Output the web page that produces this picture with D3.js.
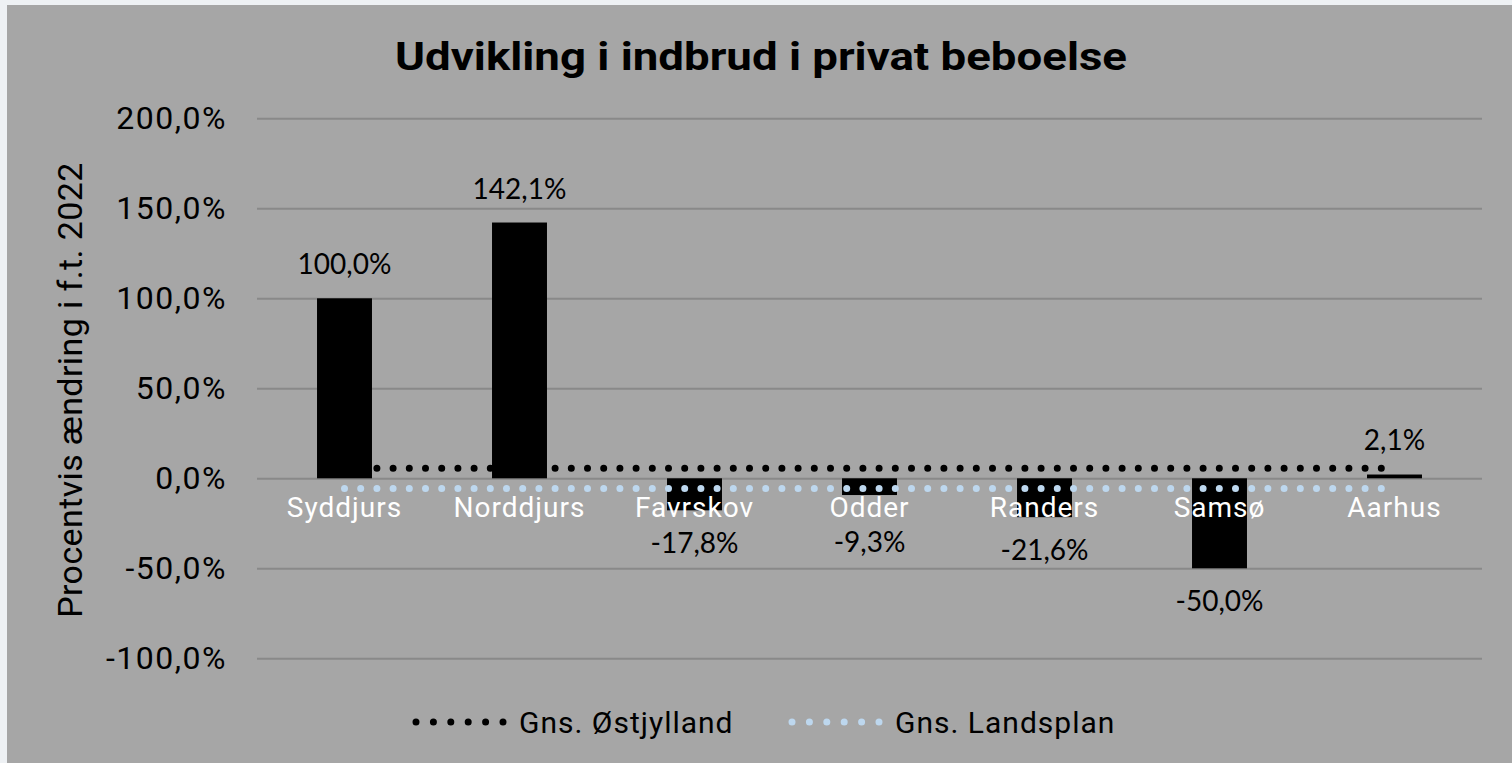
<!DOCTYPE html>
<html lang="da">
<head>
<meta charset="UTF-8">
<script src="https://d3js.org/d3.v7.min.js"></script>
<title>Udvikling i indbrud i privat beboelse</title>
<style>
  body { margin: 0; background: #eef1f4; }
  svg { display: block; }
</style>
</head>
<body>
<div id="chart"></div>
<script>
// data
var kommuner = ["Syddjurs", "Norddjurs", "Favrskov", "Odder", "Randers", "Samsø", "Aarhus"];
var aendring = [100.0, 142.1, -17.8, -9.3, -21.6, -50.0, 2.1];
var gnsOstjylland = [5.6, 5.6, 5.6, 5.6, 5.6, 5.6, 5.6];
var gnsLandsplan = [-5.6, -5.6, -5.6, -5.6, -5.6, -5.6, -5.6];
var yTicks = [-100, -50, 0, 50, 100, 150, 200];
var serieNavne = ["Gns. Østjylland", "Gns. Landsplan"];

var W = 1512, H = 763;
// dansk format med almindelig bindestreg
var fmt = function (v) { return d3.format(".1f")(v).replace(".", ",").replace("\u2212", "-") + "%"; };
var tickFont = "Roboto, 'DejaVu Sans', sans-serif";

var svg = d3.select("#chart").append("svg")
    .attr("width", W)
    .attr("height", H);

// baggrund
svg.append("rect").attr("x", 7).attr("y", 5)
    .attr("width", W - 7).attr("height", H - 5)
    .attr("fill", "#a6a6a6");

var x = d3.scaleBand().domain(kommuner).range([257, 1482])
    .paddingInner(0.686).paddingOuter(0.343);
var y = d3.scaleLinear().domain([-100, 200]).range([658.3, 118.3]);
var cx = function (d) { return x(d) + x.bandwidth() / 2; };

// titel
svg.append("text")
    .attr("x", 761).attr("y", 70)
    .attr("text-anchor", "middle")
    .attr("font-family", "Roboto, sans-serif")
    .attr("font-weight", 700)
    .attr("font-size", 39)
    .attr("textLength", 732)
    .attr("lengthAdjust", "spacingAndGlyphs")
    .text("Udvikling i indbrud i privat beboelse");

// gitterlinjer + akse
var yAxis = d3.axisLeft(y).tickValues(yTicks).tickSize(-(1482 - 257)).tickPadding(30)
    .tickFormat(fmt);
var gy = svg.append("g").attr("transform", "translate(257,0)").call(yAxis);
gy.select(".domain").remove();
gy.selectAll(".tick line").attr("stroke", "#898989").attr("stroke-width", 2);
gy.selectAll(".tick text")
    .attr("fill", "#000")
    .attr("font-family", tickFont)
    .attr("font-size", 32)
    .attr("letter-spacing", 1.5);

// akse titel
svg.append("text")
    .attr("transform", "translate(82,390) rotate(-90)")
    .attr("text-anchor", "middle")
    .attr("font-family", tickFont)
    .attr("font-size", 34)
    .attr("letter-spacing", 0.4)
    .text("Procentvis ændring i f.t. 2022");

// linje helper
var line = d3.line().x(function (d, i) { return cx(kommuner[i]); }).y(function (d) { return y(d); });

// Gns. Østjylland (bag søjlerne)
svg.append("path").datum(gnsOstjylland)
    .attr("d", line)
    .attr("fill", "none")
    .attr("stroke", "#000")
    .attr("stroke-width", 7)
    .attr("stroke-linecap", "round")
    .attr("stroke-dasharray", "0 16.2");

// søjler
svg.selectAll("rect.bar").data(aendring).enter().append("rect")
    .attr("class", "bar")
    .attr("x", function (d, i) { return x(kommuner[i]); })
    .attr("width", x.bandwidth())
    .attr("y", function (d) { return y(Math.max(0, d)); })
    .attr("height", function (d) { return Math.abs(y(d) - y(0)); })
    .attr("fill", "#000");

// Gns. Landsplan
svg.append("path").datum(gnsLandsplan)
    .attr("d", line)
    .attr("fill", "none")
    .attr("stroke", "#bdd7ee")
    .attr("stroke-width", 7)
    .attr("stroke-linecap", "round")
    .attr("stroke-dasharray", "0 16.2");

// kategori labels
svg.selectAll("text.cat").data(kommuner).enter().append("text")
    .attr("class", "cat")
    .attr("x", cx)
    .attr("y", 517)
    .attr("text-anchor", "middle")
    .attr("fill", "#fff")
    .attr("font-family", tickFont)
    .attr("font-size", 28)
    .attr("letter-spacing", 1)
    .text(function (d) { return d; });

// data labels
svg.selectAll("text.val").data(aendring).enter().append("text")
    .attr("class", "val")
    .attr("x", function (d, i) { return cx(kommuner[i]); })
    .attr("y", function (d) {
        return d >= 0 ? Math.min(y(d) - 24, y(0) - 28) : Math.max(y(d) + 43, y(0) + 74);
    })
    .attr("text-anchor", "middle")
    .attr("font-family", "Lato, 'Liberation Sans', sans-serif")
    .attr("font-size", 28)
    .attr("fill", "#000")
    .text(fmt);

// legend (6 prikker hver)
var legend = [
    { navn: serieNavne[0], farve: "#000", x0: 416, tx: 519 },
    { navn: serieNavne[1], farve: "#bdd7ee", x0: 792, tx: 895 }
];
var lg = svg.selectAll("g.legend").data(legend).enter().append("g").attr("class", "legend");
lg.append("line")
    .attr("x1", function (d) { return d.x0; })
    .attr("x2", function (d) { return d.x0 + 5 * 17.4 + 2; })
    .attr("y1", 722).attr("y2", 722)
    .attr("stroke", function (d) { return d.farve; })
    .attr("stroke-width", 7)
    .attr("stroke-linecap", "round")
    .attr("stroke-dasharray", "0 17.4");
lg.append("text")
    .attr("x", function (d) { return d.tx; })
    .attr("y", 733)
    .attr("font-family", tickFont)
    .attr("font-size", 30)
    .attr("letter-spacing", 1)
    .attr("fill", "#000")
    .text(function (d) { return d.navn; });
</script>
</body>
</html>
